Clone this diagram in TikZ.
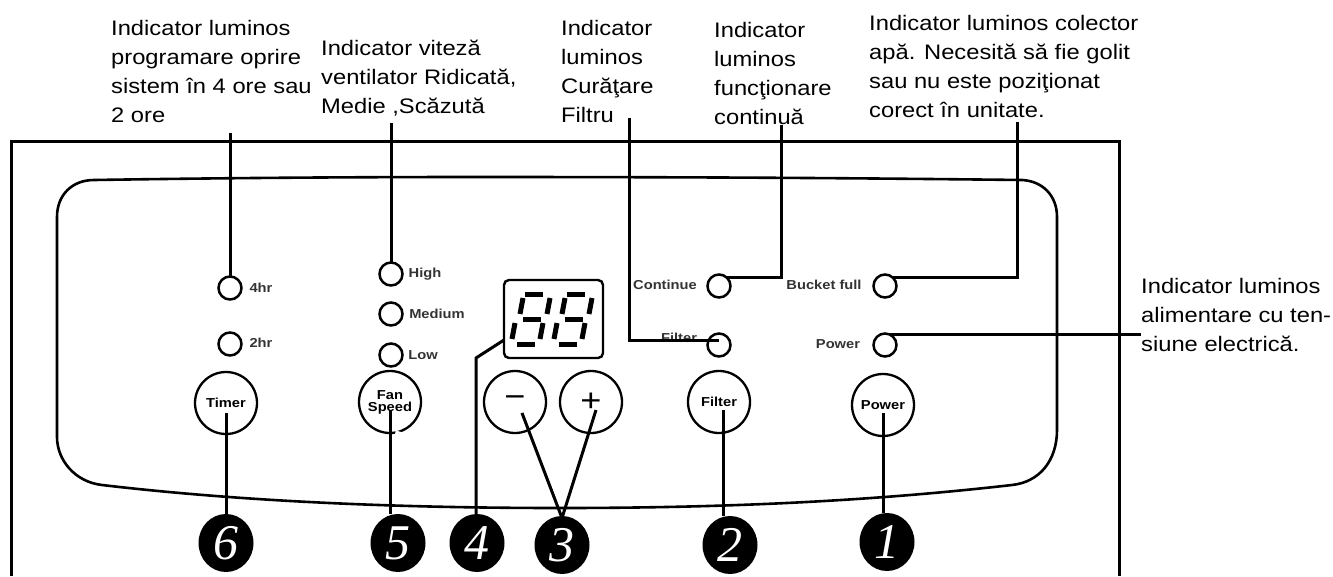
\documentclass[tikz,border=0pt]{standalone}
\usepackage{fontspec}
\usetikzlibrary{shapes.geometric}
\setmainfont[FakeStretch=1.13]{Liberation Sans}
\newfontfamily\panelfont[FakeStretch=1.13]{Liberation Sans}
\newfontfamily\numfont{Liberation Serif}
\definecolor{paneltext}{gray}{0.2}
\tikzset{
  note/.style={anchor=north west,inner sep=0pt,align=left,font=\fontsize{21}{29}\selectfont},
  led/.style={circle,draw,line width=2.5pt,minimum size=23pt,inner sep=0pt,outer sep=0pt},
  ledtext/.style={inner sep=0pt,text=paneltext,font=\panelfont\bfseries\fontsize{13}{13}\selectfont},
  knob/.style={circle,draw,line width=2.3pt,minimum size=62pt,inner sep=0pt,outer sep=0pt,align=center,
    font=\panelfont\bfseries\fontsize{13}{13}\selectfont},
  badge/.style={ellipse,fill=black,minimum width=55pt,minimum height=58pt,inner sep=0pt,text=white,
    font=\numfont\itshape\fontsize{50}{50}\selectfont},
  wire/.style={line width=3pt}
}
\begin{document}
\begin{tikzpicture}[x=1pt,y=-1pt]

        \useasboundingbox (0,0) rectangle (1333,576);

        \draw[line width=3pt] (11,576) -- (11,141) -- (1119,141) -- (1119,576);
        \draw[line width=2.6pt] (57,217) .. controls (57,195) and (72,180) .. (94,180)
          .. controls (220,178) and (350,177) .. (473,177)
          .. controls (700,177) and (850,178) .. (1022,180)
          .. controls (1042,181) and (1057,195) .. (1057,217) -- (1057,430)
          .. controls (1057,460) and (1040,482) .. (1012,485)
          .. controls (880,500) and (740,508) .. (560,508)
          .. controls (380,508) and (230,500) .. (102,485)
          .. controls (75,482) and (57,460) .. (57,437) -- cycle;

        \node[note] (timernote)  at (111,20)  {Indicator luminos\\programare oprire\\sistem în 4 ore sau\\2 ore};
        \node[note] (fannote)    at (321,40)  {Indicator viteză\\ventilator Ridicată,\\Medie ,Scăzută};
        \node[note] (filternote) at (561,20)  {Indicator\\luminos\\Curăţare\\Filtru};
        \node[note] (contnote)   at (714,22)  {Indicator\\luminos\\funcţionare\\continuă};
        \node[note] (bucketnote) at (869,15)  {Indicator luminos colector\\apă. Necesită să fie golit\\sau nu este poziţionat\\corect în unitate.};
        \node[note] (powernote)  at (1141,278) {Indicator luminos\\alimentare cu ten-\\siune electrică.};

        \begin{scope}[every node/.style={led}]
          \node (led4)      at (230,288) {};
          \node (led2)      at (230,344) {};
          \node (ledhigh)   at (391,274) {};
          \node (ledmedium) at (391,314) {};
          \node (ledlow)    at (391,355) {};
          \node (ledcont)   at (719,286) {};
          \node (ledbucket) at (885,286) {};
          \node (ledfilter) at (719,345) {};
          \node (ledpower)  at (885,345) {};
        \end{scope}

        \begin{scope}[every node/.style={ledtext}]
          \node (txt4)      at (261,288) {4hr};
          \node (txt2)      at (261,343) {2hr};
          \node (txthigh)   at (425,274) {High};
          \node (txtmedium) at (437,314) {Medium};
          \node (txtlow)    at (423,355) {Low};
          \node (txtcont)   at (665,285) {Continue};
          \node (txtbucket) at (824,285) {Bucket full};
          \node (txtfilter) at (679,338) {Filter};
          \node (txtpower)  at (838,344) {Power};
        \end{scope}

        \begin{scope}[every node/.style={knob}]
          \node (timer)  at (226,403) {Timer};
          \node (fan)    at (390,402) {Fan\\[-1pt]Speed};
          \node[font=\panelfont\fontsize{32}{32}\selectfont] (minus)  at (515,402) {−};
          \node[font=\panelfont\fontsize{32}{32}\selectfont] (plus)   at (591,402) {+};
          \node (filter) at (719,402) {Filter};
          \node (power)  at (883,405) {Power};
        \end{scope}
        \draw[white,line width=4pt] (fan.-80) arc (-80:-62:31);

        \node[draw,rounded corners=5pt,line width=2.4pt,minimum width=99pt,minimum height=78pt,inner sep=0pt,outer sep=0pt] (display) at (553.5,319) {};
        \foreach \digitx in {0,42} {
          \begin{scope}[xshift=\digitx pt,line width=5pt]
            \draw (525,294) -- (543,294);
            \draw (523,298) -- (520,314);
            \draw (550,298) -- (547,314);
            \draw (523,319) -- (541,319);
            \draw (515,323) -- (512,339);
            \draw (543,323) -- (540,339);
            \draw (517,344) -- (535,344);
          \end{scope}
        }

        \begin{scope}[every node/.style={badge}]
          \node (n6) at (226,543) {6};
          \node (n5) at (398,543) {5};
          \node (n4) at (477,543) {4};
          \node (n3) at (562,545) {3};
          \node (n2) at (730,545) {2};
          \node (n1) at (887,542) {1};
        \end{scope}

        \coordinate (top4)      at (230,133);
        \coordinate (tophigh)   at (391,123);
        \coordinate (topfilter) at (629,118);
        \coordinate (topcont)   at (781,125);
        \coordinate (topbucket) at (1017,122);
        \coordinate (endfilter) at (719,340);
        \coordinate (endpower)  at (1141,334);
        \coordinate (inminus)   at (522,413);
        \coordinate (inplus)    at (596,410);
        \coordinate (bend4)     at (476,358);
        \coordinate (joint3)    at (562,518);
        \coordinate (infilter)  at (723,410);

        \begin{scope}[every path/.style={wire}]
          \draw (top4) -- (led4.north);
          \draw (tophigh) -- (ledhigh.north);
          \draw (topfilter) |- (endfilter);
          \draw (topcont) |- (ledcont.50);
          \draw (topbucket) |- (ledbucket.50);
          \draw (ledpower.70) -- (endpower |- ledpower.70);
          \draw (timer.center) ++(0,10) -- (n6.north);
          \draw (fan.center) ++(0,8) -- (fan.center |- n5.north);
          \draw (bend4 |- n4.north) -- (bend4) -- (display.west |- 0,340);
          \draw (inminus) -- (joint3) -- (inplus);
          \draw (infilter) -- (infilter |- n2.north);
          \draw (power.center) ++(0,8) -- (power.center |- n1.north);
        \end{scope}

      \end{tikzpicture}
\end{document}
